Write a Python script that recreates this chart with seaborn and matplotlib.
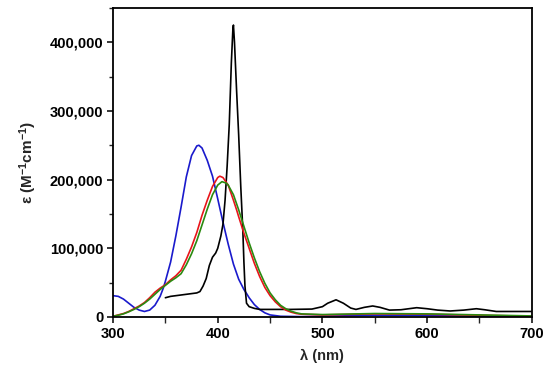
import numpy as np
import pandas as pd
import matplotlib
matplotlib.use("Agg")
import matplotlib.pyplot as plt
from matplotlib.ticker import MultipleLocator, StrMethodFormatter
import seaborn as sns

# blue spectrum
blue_nm = [300, 305, 310, 315, 320, 325, 330, 335, 340, 345, 348, 350, 355, 360, 365, 370,
           375, 380, 382, 385, 390, 395, 400, 405, 410, 415, 420, 425, 428, 430, 435, 440,
           445, 450, 455, 460, 480, 500, 550, 600, 650, 700]
blue_eps = [31000, 30000, 26000, 20000, 14000, 10000, 8000, 10000, 17000, 30000, 42000, 52000,
            80000, 118000, 160000, 204000, 235000, 249000, 250000, 246000, 228000, 205000,
            172000, 138000, 106000, 77000, 55000, 40000, 33000, 28000, 18000, 11000, 6000,
            3000, 2000, 1000, 500, 1000, 2500, 2000, 1000, 500]

# red spectrum
red_nm = [300, 305, 310, 315, 320, 325, 330, 335, 340, 345, 350, 355, 360, 365, 370, 375,
          380, 385, 390, 395, 400, 402, 405, 410, 415, 418, 420, 425, 430, 435, 440, 445,
          450, 455, 460, 465, 470, 475, 480, 500, 550, 600, 650, 700]
red_eps = [1000, 3000, 5000, 8000, 12000, 16000, 21000, 28000, 36000, 42000, 47000, 54000,
           60000, 68000, 84000, 102000, 123000, 148000, 170000, 190000, 203000, 205000,
           203000, 192000, 170000, 156000, 146000, 122000, 100000, 78000, 59000, 43000,
           31000, 22000, 15000, 10000, 7000, 5000, 4000, 3000, 4500, 4000, 2500, 1000]

# green spectrum
green_nm = [300, 305, 310, 315, 320, 325, 330, 335, 340, 345, 350, 355, 360, 365, 370, 375,
            380, 385, 390, 395, 400, 404, 408, 410, 415, 420, 425, 430, 435, 440, 445, 450,
            455, 460, 465, 470, 475, 480, 500, 550, 600, 650, 700]
green_eps = [1000, 2500, 4500, 7500, 11000, 15000, 20000, 26000, 33000, 40000, 46000, 52000,
             57000, 63000, 76000, 92000, 111000, 134000, 157000, 178000, 192000, 197000,
             195000, 192000, 178000, 156000, 132000, 108000, 86000, 66000, 49000, 35000,
             25000, 17000, 12000, 8500, 6000, 4500, 3500, 5000, 4500, 3000, 1500]

# black spectrum
black_nm = [350, 355, 360, 365, 370, 375, 380, 383, 386, 389, 392, 395, 398, 400, 403, 405,
            407, 409, 411, 413, 414.5, 415, 416, 418, 420, 422, 424, 425, 426, 427.5, 430,
            435, 440, 450, 470, 490, 500, 505, 513, 520, 527, 532, 540, 548, 555, 564, 575,
            590, 600, 610, 622, 635, 647, 655, 666, 700]
black_eps = [28000, 30000, 31000, 32000, 33000, 34000, 35000, 37000, 45000, 56000, 75000,
             87000, 93000, 100000, 118000, 135000, 170000, 220000, 280000, 370000, 420000,
             425000, 400000, 330000, 265000, 190000, 125000, 80000, 45000, 20000, 15000,
             12500, 11000, 11000, 11000, 11500, 15000, 20000, 25000, 20000, 13000, 11000,
             14000, 16000, 14000, 10000, 10500, 13500, 12000, 10000, 8700, 10000, 12000,
             10500, 8000, 8000]

sns.set_style("ticks")
plt.rcParams["font.family"] = ["Liberation Sans", "DejaVu Sans"]
plt.rcParams["font.weight"] = "bold"
plt.rcParams["mathtext.fontset"] = "custom"
plt.rcParams["mathtext.bf"] = "Liberation Sans:bold"
plt.rcParams["mathtext.rm"] = "Liberation Sans"
plt.rcParams["mathtext.default"] = "bf"

fig, ax = plt.subplots(figsize=(5.5, 3.76), dpi=100)
fig.subplots_adjust(left=0.2055, right=0.967, top=0.979, bottom=0.157)

curves = [
    (blue_nm, blue_eps, "#1a1acc"),
    (black_nm, black_eps, "black"),
    (red_nm, red_eps, "#e8141a"),
    (green_nm, green_eps, "#2a8a10"),
]
for nm, eps, col in curves:
    df = pd.DataFrame({"nm": nm, "eps": eps})
    sns.lineplot(data=df, x="nm", y="eps", color=col, linewidth=1.2, ax=ax, sort=False)

ax.set_xlim(300, 700)
ax.set_ylim(0, 450000)
ax.xaxis.set_major_locator(MultipleLocator(100))
ax.xaxis.set_minor_locator(MultipleLocator(50))
ax.yaxis.set_major_locator(MultipleLocator(100000))
ax.yaxis.set_minor_locator(MultipleLocator(50000))
ax.yaxis.set_major_formatter(StrMethodFormatter("{x:,.0f}"))

for s in ax.spines.values():
    s.set_linewidth(1.3)
    s.set_color("black")
ax.tick_params(axis="both", which="major", direction="out", length=4, width=1.1,
               labelsize=10.5, pad=3, colors="black")
ax.tick_params(axis="both", which="minor", direction="out", length=3, width=1.0)
ax.tick_params(axis="x", which="both", length=4)
for lab in ax.get_xticklabels() + ax.get_yticklabels():
    lab.set_fontweight("bold")

ax.set_xlabel("λ (nm)", fontsize=10.5, fontweight="bold", labelpad=6)
ax.set_ylabel(r"$\mathrm{ε}$ (M$^{-1}$cm$^{-1}$)", fontsize=11, fontweight="bold", labelpad=8)

fig.savefig("out.png", dpi=100)
